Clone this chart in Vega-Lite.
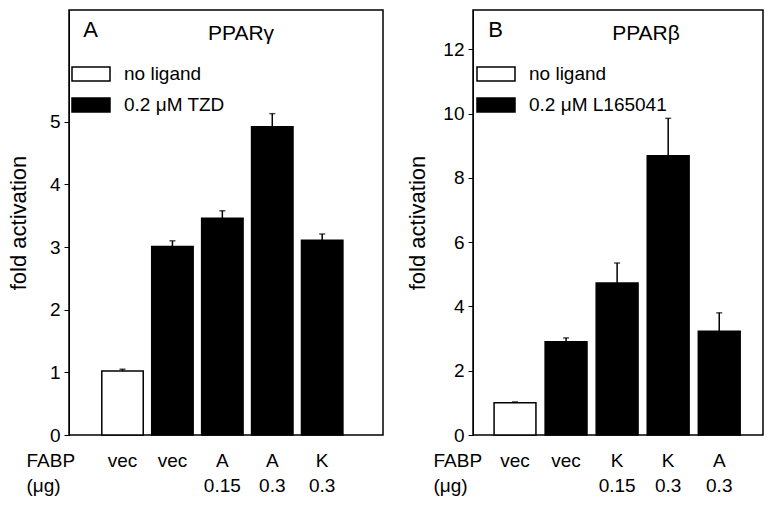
{
  "$schema": "https://vega.github.io/schema/vega-lite/v6.json",
  "padding": {"left": 6, "top": 9, "right": 10, "bottom": 5},
  "spacing": 22,
  "config": {
    "font": "Liberation Sans",
    "view": {"stroke": "black", "strokeWidth": 1.5},
    "axis": {"grid": false, "labelColor": "black", "titleColor": "black", "domainColor": "black", "tickColor": "black", "labelFontSize": 19, "titleFontWeight": "normal"},
    "legend": {"labelFontSize": 19, "labelColor": "black", "titleColor": "black", "titleFontWeight": "normal"},
    "title": {"color": "black", "fontWeight": "normal"}
  },
  "datasets": {
    "A": [
      {"cat": "vec", "ligand": "no ligand", "value": 1.02, "upper": 1.05},
      {"cat": "vec\u00a0", "ligand": "0.2 μM TZD", "value": 3.01, "upper": 3.10},
      {"cat": "A|0.15", "ligand": "0.2 μM TZD", "value": 3.46, "upper": 3.58},
      {"cat": "A|0.3", "ligand": "0.2 μM TZD", "value": 4.92, "upper": 5.13},
      {"cat": "K|0.3", "ligand": "0.2 μM TZD", "value": 3.11, "upper": 3.21}
    ],
    "B": [
      {"cat": "vec", "ligand": "no ligand", "value": 1.0, "upper": 1.03},
      {"cat": "vec\u00a0", "ligand": "0.2 μM L165041", "value": 2.90, "upper": 3.02},
      {"cat": "K|0.15", "ligand": "0.2 μM L165041", "value": 4.73, "upper": 5.35},
      {"cat": "K|0.3", "ligand": "0.2 μM L165041", "value": 8.69, "upper": 9.85},
      {"cat": "A|0.3", "ligand": "0.2 μM L165041", "value": 3.23, "upper": 3.80}
    ]
  },
  "resolve": {"scale": {"x": "independent", "y": "independent", "color": "independent", "fill": "independent"}, "legend": {"fill": "independent"}},
  "hconcat": [
    {
      "width": 314,
      "height": 425,
      "data": {"name": "A"},
      "title": {"text": "PPARγ", "anchor": "middle", "frame": "group", "offset": -34, "dx": 15, "fontSize": 21},
      "encoding": {
        "x": {
          "field": "cat", "type": "nominal", "sort": null,
          "scale": {"paddingInner": 0.17, "paddingOuter": 0.73, "align": 0.45},
          "axis": {
            "labelAngle": 0, "domain": false, "ticks": false, "labelPadding": 16, "labelBaseline": "top", "labelLineHeight": 25,
            "labelExpr": "split(datum.value, '|')",
            "title": ["FABP", "(μg)"], "titleFontSize": 19, "titleAlign": "left", "titleBaseline": "top", "titleLineHeight": 25,
            "titleX": -43, "titleY": 16
          }
        }
      },
      "layer": [
        {
          "mark": {"type": "bar", "stroke": "black", "strokeWidth": 1.5},
          "encoding": {
            "y": {"field": "value", "type": "quantitative",
              "scale": {"domain": [0, 6.785], "nice": false},
              "axis": {"values": [0, 0.5, 1, 1.5, 2, 2.5, 3, 3.5, 4, 4.5, 5, 5.5], "format": "d", "labelExpr": "datum.value % 1 === 0 ? datum.label : ''", "tickSize": 5, "labelPadding": 4, "title": "fold activation", "titleFontSize": 22, "titlePadding": 19}},
            "fill": {"field": "ligand", "type": "nominal", "sort": null,
              "scale": {"domain": ["no ligand", "0.2 μM TZD"], "range": ["white", "black"]},
              "legend": {"orient": "none", "legendX": 2, "legendY": 10, "title": "\u200b\u00a0\u00a0A", "titleFontSize": 22, "titlePadding": 12,
                "symbolType": "M-1,-0.37H1V0.37H-1Z", "symbolSize": 1444, "symbolStrokeColor": "black", "symbolStrokeWidth": 1.5, "labelOffset": 13, "rowPadding": 0}}
          }
        },
        {
          "mark": {"type": "rule", "color": "black", "strokeWidth": 1.5},
          "encoding": {"y": {"field": "value", "type": "quantitative"}, "y2": {"field": "upper"}}
        },
        {
          "mark": {"type": "tick", "color": "black", "size": 6, "thickness": 1.5},
          "encoding": {"y": {"field": "upper", "type": "quantitative"}}
        }
      ]
    },
    {
      "width": 290,
      "height": 425,
      "data": {"name": "B"},
      "title": {"text": "PPARβ", "anchor": "middle", "frame": "group", "offset": -34, "dx": 28, "fontSize": 21},
      "encoding": {
        "x": {
          "field": "cat", "type": "nominal", "sort": null,
          "scale": {"paddingInner": 0.18, "paddingOuter": 0.43, "align": 0.48},
          "axis": {
            "labelAngle": 0, "domain": false, "ticks": false, "labelPadding": 16, "labelBaseline": "top", "labelLineHeight": 25,
            "labelExpr": "split(datum.value, '|')",
            "title": ["FABP", "(μg)"], "titleFontSize": 19, "titleAlign": "left", "titleBaseline": "top", "titleLineHeight": 25,
            "titleX": -40, "titleY": 16
          }
        }
      },
      "layer": [
        {
          "mark": {"type": "bar", "stroke": "black", "strokeWidth": 1.5},
          "encoding": {
            "y": {"field": "value", "type": "quantitative",
              "scale": {"domain": [0, 13.22], "nice": false},
              "axis": {"values": [0, 1, 2, 3, 4, 5, 6, 7, 8, 9, 10, 11, 12], "format": "d", "labelExpr": "datum.value % 2 === 0 ? datum.label : ''", "tickSize": 5, "labelPadding": 4, "title": "fold activation", "titleFontSize": 22, "titlePadding": 13}},
            "fill": {"field": "ligand", "type": "nominal", "sort": null,
              "scale": {"domain": ["no ligand", "0.2 μM L165041"], "range": ["white", "black"]},
              "legend": {"orient": "none", "legendX": 3, "legendY": 10, "title": "\u200b\u00a0\u00a0B", "titleFontSize": 22, "titlePadding": 12,
                "symbolType": "M-1,-0.37H1V0.37H-1Z", "symbolSize": 1444, "symbolStrokeColor": "black", "symbolStrokeWidth": 1.5, "labelOffset": 13, "rowPadding": 0}}
          }
        },
        {
          "mark": {"type": "rule", "color": "black", "strokeWidth": 1.5},
          "encoding": {"y": {"field": "value", "type": "quantitative"}, "y2": {"field": "upper"}}
        },
        {
          "mark": {"type": "tick", "color": "black", "size": 6, "thickness": 1.5},
          "encoding": {"y": {"field": "upper", "type": "quantitative"}}
        }
      ]
    }
  ]
}
